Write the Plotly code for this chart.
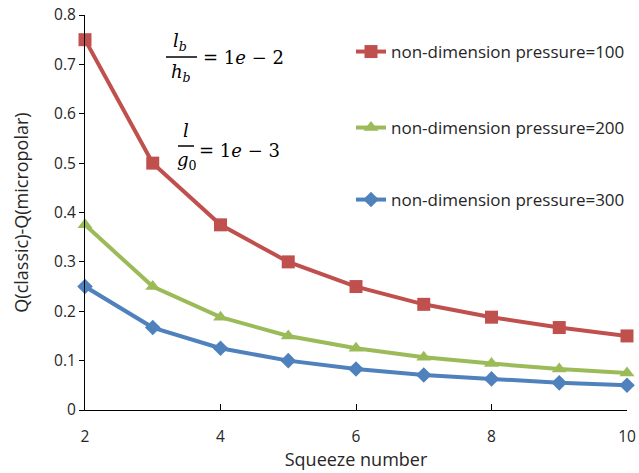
import plotly.graph_objects as go

squeeze = [2, 3, 4, 5, 6, 7, 8, 9, 10]
p100 = [0.75, 0.50, 0.375, 0.30, 0.25, 0.214, 0.188, 0.167, 0.15]
p200 = [0.375, 0.25, 0.188, 0.15, 0.125, 0.107, 0.094, 0.083, 0.075]
p300 = [0.25, 0.167, 0.125, 0.10, 0.083, 0.071, 0.063, 0.055, 0.05]
names = ["non-dimension pressure=100", "non-dimension pressure=200", "non-dimension pressure=300"]
colors = ["#C0504D", "#9BBB59", "#4F81BD"]
symbols = ["square", "triangle-up", "diamond"]
sizes = [13, 13, 12]

W, H = 639, 473
L, R, T, B = 85, 12, 15, 63
pw, ph = W - L - R, H - T - B

def px(x):
    return (x - L) / pw

def py(y):
    return (H - B - y) / ph

FONT = "Open Sans"
TXT = "#262626"

fig = go.Figure()
legend_keys = ["legend", "legend2", "legend3"]
for i, ys in enumerate([p100, p200, p300]):
    fig.add_trace(go.Scatter(
        x=squeeze, y=ys, mode="lines+markers", name=names[i],
        line=dict(color=colors[i], width=4),
        marker=dict(symbol=symbols[i], size=sizes[i], color=colors[i]),
        cliponaxis=False, legend=legend_keys[i],
    ))

leg_y = [52, 128, 200]
leg_common = dict(x=px(351), xanchor="left", yanchor="middle",
                  bgcolor="rgba(0,0,0,0)", font=dict(family=FONT, size=17, color=TXT),
                  borderwidth=0)
layout_legs = {}
for k, yy in zip(legend_keys, leg_y):
    layout_legs[k] = dict(y=py(yy), **leg_common)

fig.update_layout(
    width=W, height=H,
    margin=dict(l=L, r=R, t=T, b=B, autoexpand=False),
    plot_bgcolor="white", paper_bgcolor="white",
    showlegend=True,
    font=dict(family=FONT, size=15, color=TXT),
    xaxis=dict(range=[2, 10], tickvals=[2, 4, 6, 8, 10], showgrid=False, zeroline=False,
               showline=True, linecolor="black", linewidth=1,
               ticks="inside", ticklen=6, tickcolor="black", automargin=False,
               tickfont=dict(family=FONT, size=15.5, color=TXT), ticklabelstandoff=12,
               title=dict(text="Squeeze number", font=dict(family=FONT, size=18, color=TXT), standoff=6)),
    yaxis=dict(range=[0, 0.8], tickvals=[0, 0.1, 0.2, 0.3, 0.4, 0.5, 0.6, 0.7, 0.8],
               ticktext=["0", "0.1", "0.2", "0.3", "0.4", "0.5", "0.6", "0.7", "0.8"],
               showgrid=False, zeroline=False, automargin=False,
               showline=True, linecolor="black", linewidth=1,
               ticks="outside", ticklen=5, tickcolor="black",
               tickfont=dict(family=FONT, size=15.5, color=TXT),
               title=dict(text="Q(classic)-Q(micropolar)", font=dict(family=FONT, size=18, color=TXT), standoff=20)),
    **layout_legs,
)

SERIF = "DejaVu Serif"
def ann(text, x, y, size=18, xanchor="center"):
    fig.add_annotation(text=text, x=px(x), y=py(y), xref="paper", yref="paper",
                       showarrow=False, xanchor=xanchor, yanchor="middle",
                       font=dict(family=SERIF, size=size, color="black"))

# first formula
ann("<i>l</i><sub><i>b</i></sub>", 180, 42)
ann("<i>h</i><sub><i>b</i></sub>", 181, 73)
fig.add_shape(type="line", xref="paper", yref="paper", x0=px(166), x1=px(197), y0=py(57), y1=py(57),
              line=dict(color="black", width=1.5))
ann("= 1<i>e</i> − 2", 201, 57, xanchor="left")
# second formula
ann("<i>l</i>", 186, 130)
ann("<i>g</i><sub>0</sub>", 187, 161)
fig.add_shape(type="line", xref="paper", yref="paper", x0=px(178), x1=px(194), y0=py(146), y1=py(146),
              line=dict(color="black", width=1.5))
ann("= 1<i>e</i> − 3", 197, 150, xanchor="left")

fig.write_html("out.html")
